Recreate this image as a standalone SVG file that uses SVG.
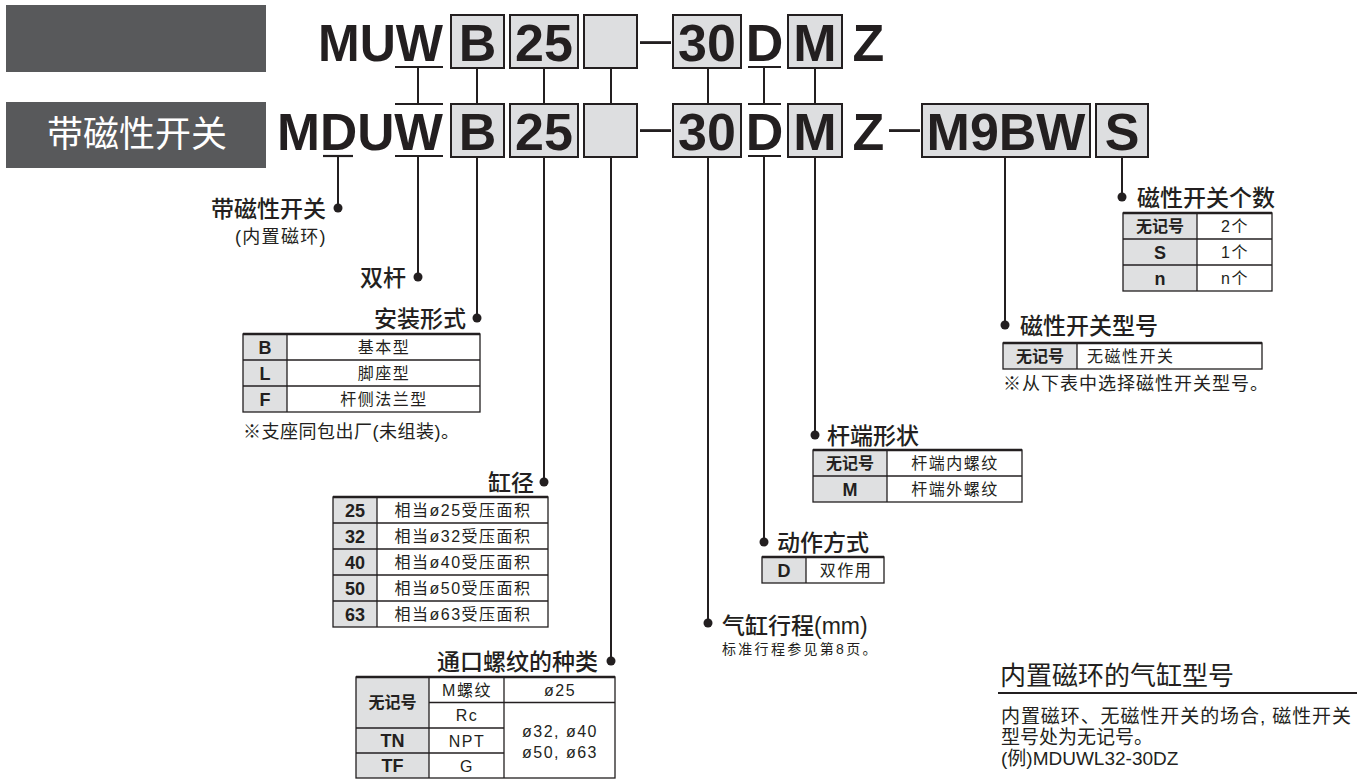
<svg xmlns="http://www.w3.org/2000/svg" width="1369" height="781" viewBox="0 0 1369 781">
<style>
.bg{fill:#fff}
.dark{fill:#58595b}
.box{fill:#dddee0;stroke:#231f20;stroke-width:2}
.code{font-family:"Liberation Sans",Arial,sans-serif;font-weight:bold;font-size:52px;fill:#231f20}
.dash{font-family:"Liberation Sans",Arial,sans-serif;font-size:42px;fill:#231f20}
.ln{stroke:#231f20;stroke-width:2;fill:none}
.ul{stroke:#231f20;stroke-width:2.2;fill:none}
.dot{fill:#231f20}
.lbl{font-family:"Liberation Sans","Noto Sans CJK SC",sans-serif;font-size:23px;font-weight:500;fill:#231f20}
.note{font-family:"Liberation Sans","Noto Sans CJK SC",sans-serif;font-size:18px;fill:#231f20}
.small{font-family:"Liberation Sans","Noto Sans CJK SC",sans-serif;font-size:14px;fill:#231f20;letter-spacing:2.3px}
.gcell{fill:#dfe0e1}
.tb{stroke:#231f20;stroke-width:1.3;fill:none}
.tt{stroke:#231f20;stroke-width:2.6;fill:none}
.td{font-family:"Liberation Sans","Noto Sans CJK SC",sans-serif;font-size:16px;fill:#231f20;letter-spacing:1.5px;text-anchor:middle}
.tk{font-family:"Liberation Sans","Noto Sans CJK SC",sans-serif;font-size:18px;font-weight:bold;fill:#231f20;text-anchor:middle}
.tk2{font-family:"Liberation Sans","Noto Sans CJK SC",sans-serif;font-size:16px;font-weight:bold;fill:#231f20;text-anchor:middle}
.head{font-family:"Liberation Sans","Noto Sans CJK SC",sans-serif;font-size:26px;fill:#231f20}
.body{font-family:"Liberation Sans","Noto Sans CJK SC",sans-serif;font-size:19px;fill:#231f20}
.white{font-family:"Noto Sans CJK SC","Liberation Sans",sans-serif;font-size:36px;fill:#fff}
</style>
<rect class="bg" x="0" y="0" width="1369" height="781"/>

<g id="header-boxes">
<rect class="dark" x="6" y="5" width="260" height="67"/>
<rect class="dark" x="6" y="102" width="260" height="66"/>
<text class="white" x="137" y="147" text-anchor="middle">带磁性开关</text>
</g>

<g id="row1">
<text class="code" x="318" y="61" textLength="125" lengthAdjust="spacingAndGlyphs">MUW</text>
<rect class="box" x="451" y="15" width="53" height="53"/>
<text class="code" x="477.5" y="61" text-anchor="middle">B</text>
<rect class="box" x="510" y="15" width="68" height="53"/>
<text class="code" x="544" y="61" text-anchor="middle">25</text>
<rect class="box" x="584" y="15" width="53" height="53"/>
<text class="dash" x="640" y="53" textLength="31" lengthAdjust="spacingAndGlyphs">–</text>
<rect class="box" x="673" y="15" width="68" height="53"/>
<text class="code" x="707" y="61" text-anchor="middle">30</text>
<text class="code" x="764.5" y="61" text-anchor="middle">D</text>
<rect class="box" x="788" y="15" width="54" height="53"/>
<text class="code" x="815" y="61" text-anchor="middle">M</text>
<text class="code" x="868.5" y="61" text-anchor="middle">Z</text>
</g>

<g id="row2">
<text class="code" x="277" y="150" textLength="166" lengthAdjust="spacingAndGlyphs">MDUW</text>
<rect class="box" x="451" y="104" width="53" height="53"/>
<text class="code" x="477.5" y="150" text-anchor="middle">B</text>
<rect class="box" x="510" y="104" width="68" height="53"/>
<text class="code" x="544" y="150" text-anchor="middle">25</text>
<rect class="box" x="584" y="104" width="53" height="53"/>
<text class="dash" x="640" y="141" textLength="31" lengthAdjust="spacingAndGlyphs">–</text>
<rect class="box" x="673" y="104" width="68" height="53"/>
<text class="code" x="707" y="150" text-anchor="middle">30</text>
<text class="code" x="764.5" y="150" text-anchor="middle">D</text>
<rect class="box" x="788" y="104" width="54" height="53"/>
<text class="code" x="815" y="150" text-anchor="middle">M</text>
<text class="code" x="868.5" y="150" text-anchor="middle">Z</text>
<text class="dash" x="889" y="141" textLength="31" lengthAdjust="spacingAndGlyphs">–</text>
<rect class="box" x="922" y="104" width="168" height="53"/>
<text class="code" x="1006" y="150" text-anchor="middle">M9BW</text>
<rect class="box" x="1096" y="104" width="52" height="53"/>
<text class="code" x="1122" y="150" text-anchor="middle">S</text>
</g>

<g id="connectors">
<line class="ul" x1="395" y1="67" x2="443" y2="67"/>
<line class="ul" x1="748" y1="67" x2="781" y2="67"/>
<line class="ul" x1="395" y1="104" x2="443" y2="104"/>
<line class="ul" x1="748" y1="104" x2="781" y2="104"/>
<line class="ul" x1="395" y1="156" x2="443" y2="156"/>
<line class="ul" x1="748" y1="156" x2="781" y2="156"/>
<line class="ul" x1="323" y1="156" x2="353" y2="156"/>
<line class="ln" x1="418" y1="67" x2="418" y2="104"/>
<line class="ln" x1="477" y1="68" x2="477" y2="104"/>
<line class="ln" x1="544" y1="68" x2="544" y2="104"/>
<line class="ln" x1="611" y1="68" x2="611" y2="104"/>
<line class="ln" x1="708" y1="68" x2="708" y2="104"/>
<line class="ln" x1="764" y1="67" x2="764" y2="104"/>
<line class="ln" x1="815" y1="68" x2="815" y2="104"/>
<line class="ln" x1="338" y1="156" x2="338" y2="208"/>
<circle class="dot" cx="338" cy="208" r="4.5"/>
<line class="ln" x1="418" y1="156" x2="418" y2="277"/>
<circle class="dot" cx="418" cy="277" r="4.5"/>
<line class="ln" x1="477" y1="157" x2="477" y2="318"/>
<circle class="dot" cx="477" cy="318" r="4.5"/>
<line class="ln" x1="544" y1="157" x2="544" y2="482"/>
<circle class="dot" cx="544" cy="482" r="4.5"/>
<line class="ln" x1="611" y1="157" x2="611" y2="661"/>
<circle class="dot" cx="611" cy="661" r="4.5"/>
<line class="ln" x1="708" y1="157" x2="708" y2="623"/>
<circle class="dot" cx="708" cy="623" r="4.5"/>
<line class="ln" x1="764" y1="156" x2="764" y2="542"/>
<circle class="dot" cx="764" cy="542" r="4.5"/>
<line class="ln" x1="815" y1="157" x2="815" y2="435"/>
<circle class="dot" cx="815" cy="435" r="4.5"/>
<line class="ln" x1="1005" y1="157" x2="1005" y2="325"/>
<circle class="dot" cx="1005" cy="325" r="4.5"/>
<line class="ln" x1="1122" y1="157" x2="1122" y2="197"/>
<circle class="dot" cx="1122" cy="197" r="4.5"/>
</g>

<g id="switch-label">
<text class="lbl" x="326" y="217" text-anchor="end">带磁性开关</text>
<text class="note" x="235" y="243" letter-spacing="1.3">(内置磁环)</text>
</g>

<g id="double-rod">
<text class="lbl" x="406" y="286" text-anchor="end">双杆</text>
</g>

<g id="mounting">
<text class="lbl" x="466" y="327" text-anchor="end">安装形式</text>
<rect class="gcell" x="243" y="334" width="44" height="78"/>
<line class="tb" x1="243" y1="360" x2="480" y2="360"/>
<line class="tb" x1="243" y1="386" x2="480" y2="386"/>
<line class="tb" x1="287" y1="334" x2="287" y2="412"/>
<rect class="tb" x="243" y="334" width="237" height="78"/>
<line class="tt" x1="243" y1="334" x2="480" y2="334"/>
<text class="tk" x="265" y="353.5">B</text>
<text class="tk" x="265" y="379.5">L</text>
<text class="tk" x="265" y="405.5">F</text>
<text class="td" x="384" y="353">基本型</text>
<text class="td" x="384" y="379">脚座型</text>
<text class="td" x="384" y="405">杆侧法兰型</text>
<text class="note" x="243" y="438" letter-spacing="0.5">※支座同包出厂(未组装)。</text>
</g>

<g id="bore">
<text class="lbl" x="534" y="491" text-anchor="end">缸径</text>
<rect class="gcell" x="333" y="497" width="44" height="130"/>
<line class="tb" x1="333" y1="523" x2="548" y2="523"/>
<line class="tb" x1="333" y1="549" x2="548" y2="549"/>
<line class="tb" x1="333" y1="575" x2="548" y2="575"/>
<line class="tb" x1="333" y1="601" x2="548" y2="601"/>
<line class="tb" x1="377" y1="497" x2="377" y2="627"/>
<rect class="tb" x="333" y="497" width="215" height="130"/>
<line class="tt" x1="333" y1="497" x2="548" y2="497"/>
<text class="tk" x="355" y="516.5">25</text>
<text class="tk" x="355" y="542.5">32</text>
<text class="tk" x="355" y="568.5">40</text>
<text class="tk" x="355" y="594.5">50</text>
<text class="tk" x="355" y="620.5">63</text>
<text class="td" x="463" y="516">相当ø25受压面积</text>
<text class="td" x="463" y="542">相当ø32受压面积</text>
<text class="td" x="463" y="568">相当ø40受压面积</text>
<text class="td" x="463" y="594">相当ø50受压面积</text>
<text class="td" x="463" y="620">相当ø63受压面积</text>
</g>

<g id="port-thread">
<text class="lbl" x="598" y="670" text-anchor="end">通口螺纹的种类</text>
<rect class="gcell" x="356" y="677" width="73" height="101"/>
<line class="tb" x1="429" y1="702.5" x2="615" y2="702.5"/>
<line class="tb" x1="356" y1="728" x2="504" y2="728"/>
<line class="tb" x1="356" y1="753" x2="504" y2="753"/>
<line class="tb" x1="429" y1="677" x2="429" y2="778"/>
<line class="tb" x1="504" y1="677" x2="504" y2="778"/>
<rect class="tb" x="356" y="677" width="259" height="101"/>
<line class="tt" x1="356" y1="677" x2="615" y2="677"/>
<text class="tk2" x="392.5" y="708">无记号</text>
<text class="tk" x="392.5" y="747">TN</text>
<text class="tk" x="392.5" y="772">TF</text>
<text class="td" x="467" y="696">M螺纹</text>
<text class="td" x="467" y="721">Rc</text>
<text class="td" x="467" y="747">NPT</text>
<text class="td" x="467" y="772">G</text>
<text class="td" x="560" y="696">ø25</text>
<text class="td" x="560" y="737">ø32, ø40</text>
<text class="td" x="560" y="758">ø50, ø63</text>
</g>

<g id="stroke">
<text class="lbl" x="722" y="634">气缸行程(mm)</text>
<text class="small" x="722" y="654">标准行程参见第8页。</text>
</g>

<g id="action">
<text class="lbl" x="777" y="551">动作方式</text>
<rect class="gcell" x="762" y="557" width="44" height="26"/>
<line class="tb" x1="806" y1="557" x2="806" y2="583"/>
<rect class="tb" x="762" y="557" width="122" height="26"/>
<line class="tt" x1="762" y1="557" x2="884" y2="557"/>
<text class="tk" x="784" y="576.5">D</text>
<text class="td" x="846" y="576">双作用</text>
</g>

<g id="rod-end">
<text class="lbl" x="827" y="444">杆端形状</text>
<rect class="gcell" x="813" y="450" width="74" height="52"/>
<line class="tb" x1="813" y1="476" x2="1022" y2="476"/>
<line class="tb" x1="887" y1="450" x2="887" y2="502"/>
<rect class="tb" x="813" y="450" width="209" height="52"/>
<line class="tt" x1="813" y1="450" x2="1022" y2="450"/>
<text class="tk2" x="850" y="469">无记号</text>
<text class="tk" x="850" y="495.5">M</text>
<text class="td" x="955" y="469">杆端内螺纹</text>
<text class="td" x="955" y="495">杆端外螺纹</text>
</g>

<g id="switch-model">
<text class="lbl" x="1020" y="334">磁性开关型号</text>
<rect class="gcell" x="1003" y="343" width="74" height="26"/>
<line class="tb" x1="1077" y1="343" x2="1077" y2="369"/>
<rect class="tb" x="1003" y="343" width="259" height="26"/>
<line class="tt" x1="1003" y1="343" x2="1262" y2="343"/>
<text class="tk2" x="1040" y="362">无记号</text>
<text class="td" x="1087" y="362" style="text-anchor:start">无磁性开关</text>
<text class="note" x="1003" y="390" letter-spacing="1">※从下表中选择磁性开关型号。</text>
</g>

<g id="switch-count">
<text class="lbl" x="1137" y="206">磁性开关个数</text>
<rect class="gcell" x="1123" y="213" width="74" height="78"/>
<line class="tb" x1="1123" y1="239" x2="1272" y2="239"/>
<line class="tb" x1="1123" y1="265" x2="1272" y2="265"/>
<line class="tb" x1="1197" y1="213" x2="1197" y2="291"/>
<rect class="tb" x="1123" y="213" width="149" height="78"/>
<line class="tt" x1="1123" y1="213" x2="1272" y2="213"/>
<text class="tk2" x="1160" y="232">无记号</text>
<text class="tk" x="1160" y="258.5">S</text>
<text class="tk" x="1160" y="284.5">n</text>
<text class="td" x="1235" y="232">2个</text>
<text class="td" x="1235" y="258">1个</text>
<text class="td" x="1235" y="284">n个</text>
</g>

<g id="built-in-magnet">
<text class="head" x="1000" y="685">内置磁环的气缸型号</text>
<line x1="998" y1="693" x2="1357" y2="693" stroke="#231f20" stroke-width="2"/>
<text class="body" x="1001" y="723" textLength="350" lengthAdjust="spacing">内置磁环、无磁性开关的场合, 磁性开关</text>
<text class="body" x="1001" y="744">型号处为无记号。</text>
<text class="body" x="1001" y="765">(例)MDUWL32-30DZ</text>
</g>
</svg>
